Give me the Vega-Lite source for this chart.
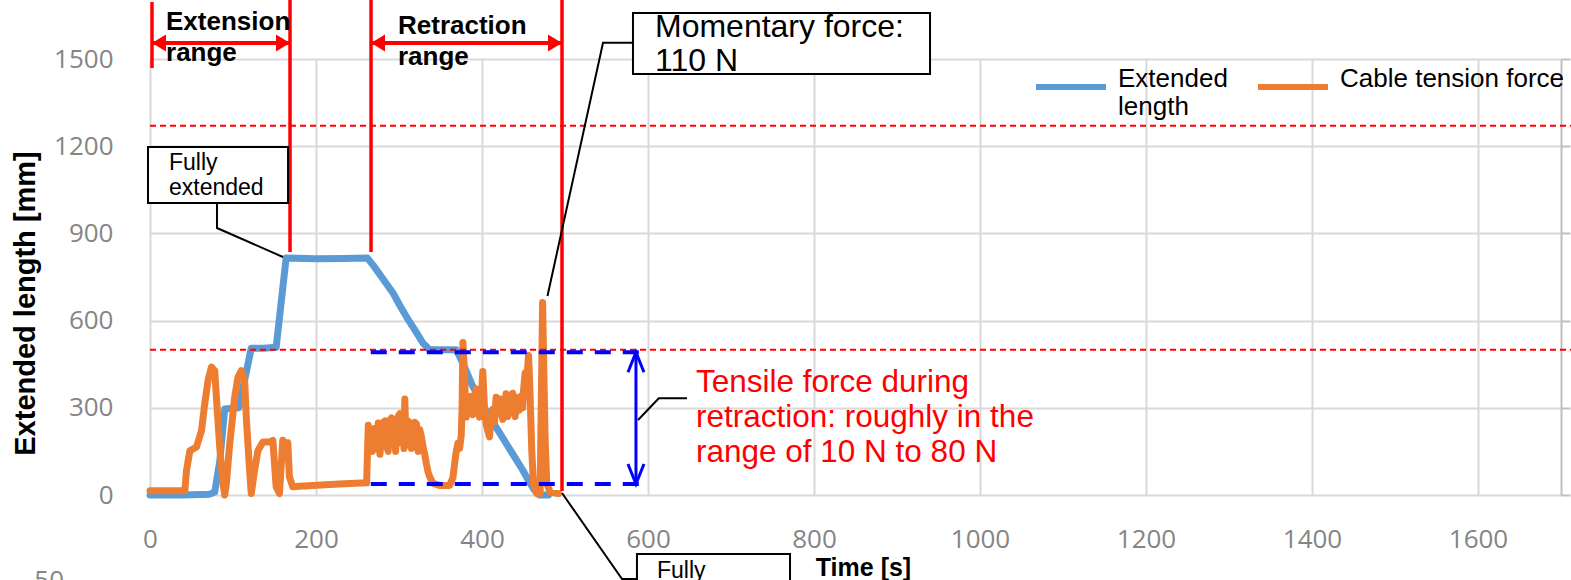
{
  "$schema": "https://vega.github.io/schema/vega-lite/v6.json",
  "width": 1411,
  "height": 436,
  "autosize": {"type": "none"},
  "padding": {"left": 150, "top": 59, "right": 10, "bottom": 85},
  "background": "white",
  "config": {
    "view": {"stroke": null},
    "font": "Liberation Sans",
    "text": {"font": "Liberation Sans"}
  },
  "datasets": {
    "len": [{"t":0,"v":0},{"t":40,"v":0},{"t":72,"v":3},{"t":78,"v":10},{"t":84,"v":115},{"t":90,"v":296},{"t":98,"v":298},{"t":107,"v":300},{"t":122,"v":505},{"t":137,"v":505},{"t":152,"v":508},{"t":164,"v":815},{"t":200,"v":813},{"t":235,"v":814},{"t":262,"v":815},{"t":269,"v":790},{"t":281,"v":742},{"t":293,"v":694},{"t":301,"v":652},{"t":309,"v":613},{"t":319,"v":568},{"t":329,"v":522},{"t":337,"v":500},{"t":352,"v":500},{"t":369,"v":500},{"t":377,"v":453},{"t":389,"v":373},{"t":399,"v":322},{"t":409,"v":269},{"t":419,"v":224},{"t":429,"v":178},{"t":439,"v":132},{"t":449,"v":86},{"t":456,"v":50},{"t":463,"v":17},{"t":469,"v":0},{"t":480,"v":0}],
    "ten": [{"t":0,"v":15},{"t":42,"v":15},{"t":44,"v":85},{"t":48,"v":152},{"t":56,"v":165},{"t":62,"v":220},{"t":66,"v":315},{"t":70,"v":395},{"t":74,"v":440},{"t":78,"v":428},{"t":80,"v":336},{"t":84,"v":165},{"t":88,"v":38},{"t":90,"v":0},{"t":92,"v":38},{"t":96,"v":175},{"t":102,"v":336},{"t":106,"v":406},{"t":110,"v":428},{"t":114,"v":395},{"t":116,"v":268},{"t":118,"v":175},{"t":120,"v":85},{"t":122,"v":5},{"t":126,"v":85},{"t":130,"v":152},{"t":136,"v":182},{"t":144,"v":182},{"t":148,"v":188},{"t":150,"v":108},{"t":152,"v":28},{"t":156,"v":5},{"t":160,"v":188},{"t":162,"v":150},{"t":164,"v":130},{"t":166,"v":180},{"t":168,"v":62},{"t":172,"v":28},{"t":180,"v":30},{"t":196,"v":33},{"t":228,"v":38},{"t":261,"v":42},{"t":263,"v":240},{"t":264,"v":190},{"t":265,"v":215},{"t":267,"v":200},{"t":268,"v":150},{"t":269,"v":175},{"t":271,"v":230},{"t":272,"v":205},{"t":273,"v":160},{"t":275,"v":248},{"t":277,"v":140},{"t":279,"v":200},{"t":281,"v":250},{"t":283,"v":255},{"t":285,"v":170},{"t":287,"v":150},{"t":289,"v":258},{"t":291,"v":265},{"t":293,"v":190},{"t":294,"v":230},{"t":296,"v":150},{"t":297,"v":200},{"t":299,"v":270},{"t":301,"v":280},{"t":303,"v":180},{"t":305,"v":230},{"t":306,"v":160},{"t":307,"v":330},{"t":308,"v":230},{"t":309,"v":172},{"t":311,"v":255},{"t":313,"v":245},{"t":315,"v":160},{"t":317,"v":170},{"t":319,"v":250},{"t":321,"v":245},{"t":323,"v":150},{"t":325,"v":225},{"t":327,"v":200},{"t":329,"v":165},{"t":331,"v":140},{"t":333,"v":108},{"t":335,"v":80},{"t":337,"v":62},{"t":341,"v":40},{"t":349,"v":33},{"t":361,"v":33},{"t":365,"v":60},{"t":367,"v":108},{"t":369,"v":150},{"t":371,"v":178},{"t":373,"v":160},{"t":375,"v":205},{"t":376,"v":300},{"t":377,"v":525},{"t":378,"v":470},{"t":379,"v":420},{"t":380,"v":320},{"t":381,"v":268},{"t":383,"v":330},{"t":385,"v":300},{"t":387,"v":340},{"t":389,"v":276},{"t":391,"v":320},{"t":393,"v":365},{"t":395,"v":300},{"t":397,"v":268},{"t":399,"v":330},{"t":401,"v":425},{"t":403,"v":300},{"t":405,"v":245},{"t":407,"v":220},{"t":409,"v":200},{"t":411,"v":260},{"t":413,"v":295},{"t":415,"v":250},{"t":417,"v":336},{"t":419,"v":300},{"t":420,"v":280},{"t":422,"v":330},{"t":423,"v":292},{"t":425,"v":260},{"t":426,"v":330},{"t":428,"v":300},{"t":429,"v":348},{"t":431,"v":270},{"t":432,"v":300},{"t":434,"v":330},{"t":435,"v":292},{"t":437,"v":350},{"t":438,"v":300},{"t":440,"v":270},{"t":441,"v":336},{"t":443,"v":310},{"t":445,"v":292},{"t":447,"v":340},{"t":449,"v":300},{"t":450,"v":360},{"t":452,"v":420},{"t":454,"v":390},{"t":456,"v":480},{"t":457,"v":420},{"t":458,"v":336},{"t":460,"v":150},{"t":462,"v":40},{"t":466,"v":5},{"t":470,"v":5},{"t":473,"v":662},{"t":476,"v":200},{"t":478,"v":40},{"t":482,"v":10},{"t":492,"v":5}],
    "reddash": [{"t":0,"t2":1720,"v":1270},{"t":0,"t2":1720,"v":500}],
    "bluedash": [{"t":266,"t2":602,"v":491},{"t":266,"t2":602,"v":38}],
    "redv": [{"t":2.4,"v":1469,"v2":1696},{"t":168.7,"v":836,"v2":1703},{"t":266.3,"v":836,"v2":1703},{"t":496.4,"v":14,"v2":1703}],
    "redh": [{"t":2.4,"t2":168.7,"v":1555},{"t":266.3,"t2":496.4,"v":1555}],
    "redhead": [{"t":2.4,"v":1555,"dir":"left"},{"t":168.7,"v":1555,"dir":"right"},{"t":266.3,"v":1555,"dir":"left"},{"t":496.4,"v":1555,"dir":"right"}],
    "bluearrow": [{"t":585.5,"v":38,"v2":491}],
    "bluehead": [{"t":585.5,"v":491,"dir":"up"},{"t":585.5,"v":38,"dir":"down"}],
    "leaders": [
      {"g":"a","i":0,"t":80.7,"v":1004.6},{"g":"a","i":1,"t":80.7,"v":918.6},{"g":"a","i":2,"t":160.2,"v":818.8},
      {"g":"b","i":0,"t":581.9,"v":1556},{"g":"b","i":1,"t":545.8,"v":1556},{"g":"b","i":2,"t":478.9,"v":684.6},
      {"g":"c","i":0,"t":588,"v":258},{"g":"c","i":1,"t":613,"v":332.7},{"g":"c","i":2,"t":647,"v":332.7},
      {"g":"d","i":0,"t":496.4,"v":6.9},{"g":"d","i":1,"t":568.7,"v":-289},{"g":"d","i":2,"t":586.7,"v":-289}
    ],
    "boxes": [{"t":-2.4,"t2":166.3,"v":1004.6,"v2":1197.2},{"t":581.9,"t2":939.8,"v":1448.4,"v2":1658.2},{"t":586.7,"t2":771.1,"v":-203,"v2":-430}],
    "rangelabels": [{"t":19.3,"v":1600,"label":"Extension\nrange"},{"t":298.8,"v":1586,"label":"Retraction\nrange"}],
    "smallnotes": [{"t":22.9,"v":1118,"label":"Fully\nextended"},{"t":610.8,"v":-287,"label":"Fully"}],
    "bignote": [{"t":608.4,"v":1577,"label":"Momentary force:\n110 N"}],
    "rednote": [{"t":657.8,"v":355.4,"label":"Tensile force during\nretraction: roughly in the\nrange of 10 N to 80 N"}],
    "stray": [{"t":-103.6,"v":-325,"label":"50"}]
  },
  "resolve": {"axis": {"y": "independent"}},
  "encoding": {
    "x": {"field": "t", "type": "quantitative", "scale": {"domain": [0, 1700], "nice": false, "zero": false},
      "axis": {"values": [0,200,400,600,800,1000,1200,1400,1600], "format": "d", "grid": true, "gridColor": "#d9d9d9", "gridWidth": 2, "domain": false, "ticks": false, "tickSize": 0,
        "labelFont": "Open Sans", "labelFontSize": 26, "labelColor": "#858585", "labelPadding": 31, "labelFlush": false, "labelOverlap": false,
        "title": "Time [s]", "titleFont": "Liberation Sans", "titleFontSize": 25, "titleFontWeight": "bold", "titleColor": "black",
        "titleX": 713, "titleY": 80, "titleBaseline": "alphabetic", "titleAlign": "center"}}
  },
  "layer": [
    {
      "data": {"name": "len"},
      "mark": {"type": "line", "strokeWidth": 7, "strokeJoin": "round", "strokeCap": "round"},
      "encoding": {
        "y": {"field": "v", "type": "quantitative", "scale": {"domain": [0, 1500], "nice": false, "zero": false},
          "axis": {"orient": "left", "values": [0,300,600,900,1200,1500], "format": "d", "grid": true, "gridColor": "#d9d9d9", "gridWidth": 2, "domain": false, "ticks": false, "tickSize": 0,
            "labelFont": "Open Sans", "labelFontSize": 26, "labelColor": "#858585", "labelPadding": 37, "labelFlush": false, "labelOverlap": false,
            "title": "Extended length [mm]", "titleFont": "Liberation Sans", "titleFontSize": 29, "titleFontWeight": "bold", "titleColor": "black",
            "titleAngle": -90, "titleX": -116, "titleY": 244, "titleBaseline": "alphabetic", "titleAlign": "center"}},
        "color": {"datum": "Extended length", "type": "nominal",
          "scale": {"domain": ["Extended length", "Cable tension force"], "range": ["#5B9BD5", "#ED7D31"]},
          "legend": {"orient": "none", "legendX": 883, "legendY": -10, "direction": "horizontal", "title": null,
            "symbolType": "stroke", "symbolSize": 4900, "symbolStrokeWidth": 6,
            "labelFont": "Liberation Sans", "labelFontSize": 26, "labelColor": "black", "labelOffset": 9, "labelLimit": 400,
            "labelBaseline": "alphabetic", "columnPadding": 18, "padding": 0,
            "labelExpr": "datum.label == 'Extended length' ? ['Extended', 'length'] : [datum.label, '']"}}
      }
    },
    {
      "data": {"name": "ten"},
      "mark": {"type": "line", "strokeWidth": 7, "strokeJoin": "round", "strokeCap": "round"},
      "encoding": {
        "y": {"field": "v", "type": "quantitative",
          "axis": {"orient": "right", "values": [0,300,600,900,1200,1500], "grid": false, "labels": false, "ticks": true, "tickSize": 9, "tickColor": "#bfbfbf", "tickWidth": 2, "domain": true, "domainColor": "#bfbfbf", "domainWidth": 2, "title": null}},
        "color": {"datum": "Cable tension force", "type": "nominal"}
      }
    },
    {
      "data": {"name": "reddash"},
      "mark": {"type": "rule", "color": "#FF0000", "strokeWidth": 2, "strokeDash": [6, 4]},
      "encoding": {
        "x2": {"field": "t2"},
        "y": {"field": "v", "type": "quantitative", "axis": null}
      }
    },
    {
      "data": {"name": "bluedash"},
      "mark": {"type": "rule", "color": "#0000FF", "strokeWidth": 4, "strokeDash": [16, 12]},
      "encoding": {
        "x2": {"field": "t2"},
        "y": {"field": "v", "type": "quantitative", "axis": null}
      }
    },
    {
      "data": {"name": "redv"},
      "mark": {"type": "rule", "color": "#FF0000", "strokeWidth": 3.5},
      "encoding": {
        "y": {"field": "v", "type": "quantitative", "axis": null},
        "y2": {"field": "v2"}
      }
    },
    {
      "data": {"name": "redh"},
      "mark": {"type": "rule", "color": "#FF0000", "strokeWidth": 4},
      "encoding": {
        "x2": {"field": "t2"},
        "y": {"field": "v", "type": "quantitative", "axis": null}
      }
    },
    {
      "data": {"name": "redhead"},
      "mark": {"type": "point", "filled": true, "color": "#FF0000", "size": 196, "opacity": 1},
      "encoding": {
        "y": {"field": "v", "type": "quantitative", "axis": null},
        "shape": {"field": "dir", "type": "nominal", "legend": null,
          "scale": {"domain": ["left", "right", "up", "down"], "range": ["M 0 0 L 2 -1.2 L 2 1.2 Z", "M 0 0 L -2 -1.2 L -2 1.2 Z", "M -1 2.5 L 0 0 L 1 2.5", "M -1 -2.5 L 0 0 L 1 -2.5"]}}
      }
    },
    {
      "data": {"name": "bluearrow"},
      "mark": {"type": "rule", "color": "#0000FF", "strokeWidth": 3},
      "encoding": {
        "y": {"field": "v", "type": "quantitative", "axis": null},
        "y2": {"field": "v2"}
      }
    },
    {
      "data": {"name": "bluehead"},
      "mark": {"type": "point", "filled": false, "stroke": "#0000FF", "strokeWidth": 3, "size": 256, "opacity": 1},
      "encoding": {
        "y": {"field": "v", "type": "quantitative", "axis": null},
        "shape": {"field": "dir", "type": "nominal", "legend": null}
      }
    },
    {
      "data": {"name": "leaders"},
      "mark": {"type": "line", "color": "black", "strokeWidth": 2},
      "encoding": {
        "y": {"field": "v", "type": "quantitative", "axis": null},
        "detail": {"field": "g", "type": "nominal"},
        "order": {"field": "i", "type": "quantitative"}
      }
    },
    {
      "data": {"name": "boxes"},
      "mark": {"type": "rect", "fill": "white", "stroke": "black", "strokeWidth": 2},
      "encoding": {
        "x2": {"field": "t2"},
        "y": {"field": "v", "type": "quantitative", "axis": null},
        "y2": {"field": "v2"}
      }
    },
    {
      "data": {"name": "rangelabels"},
      "mark": {"type": "text", "align": "left", "baseline": "alphabetic", "fontSize": 26, "fontWeight": "bold", "color": "black", "lineBreak": "\n", "lineHeight": 31},
      "encoding": {
        "y": {"field": "v", "type": "quantitative", "axis": null},
        "text": {"field": "label"}
      }
    },
    {
      "data": {"name": "smallnotes"},
      "mark": {"type": "text", "align": "left", "baseline": "alphabetic", "fontSize": 23, "color": "black", "lineBreak": "\n", "lineHeight": 25},
      "encoding": {
        "y": {"field": "v", "type": "quantitative", "axis": null},
        "text": {"field": "label"}
      }
    },
    {
      "data": {"name": "bignote"},
      "mark": {"type": "text", "align": "left", "baseline": "alphabetic", "fontSize": 32, "color": "black", "lineBreak": "\n", "lineHeight": 34},
      "encoding": {
        "y": {"field": "v", "type": "quantitative", "axis": null},
        "text": {"field": "label"}
      }
    },
    {
      "data": {"name": "rednote"},
      "mark": {"type": "text", "align": "left", "baseline": "alphabetic", "fontSize": 31.5, "color": "#FF0000", "lineBreak": "\n", "lineHeight": 35},
      "encoding": {
        "y": {"field": "v", "type": "quantitative", "axis": null},
        "text": {"field": "label"}
      }
    },
    {
      "data": {"name": "stray"},
      "mark": {"type": "text", "align": "right", "baseline": "alphabetic", "font": "Open Sans", "fontSize": 26, "color": "#858585"},
      "encoding": {
        "y": {"field": "v", "type": "quantitative", "axis": null},
        "text": {"field": "label"}
      }
    }
  ]
}
